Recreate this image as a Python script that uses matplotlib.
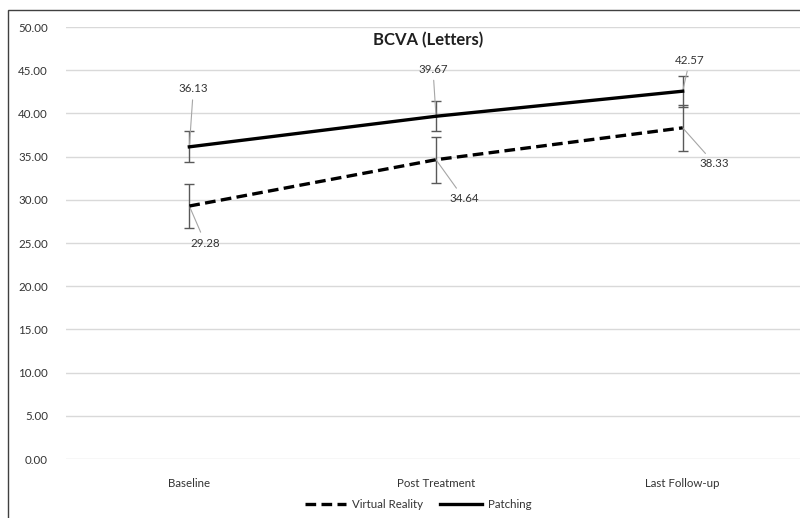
import matplotlib.pyplot as plt
from matplotlib.patches import Rectangle
from matplotlib.lines import Line2D

# data
categories = ['Baseline', 'Post Treatment', 'Last Follow-up']
vr_values = [29.28, 34.64, 38.33]
vr_err = [2.6, 2.65, 2.65]
patch_values = [36.13, 39.67, 42.57]
patch_err = [1.8, 1.75, 1.8]
yticks = [0, 5, 10, 15, 20, 25, 30, 35, 40, 45, 50]

# label offsets in pixels (from the data point)
vr_label_off = [(16, -37), (28, -39), (32, -36)]
patch_label_off = [(4, 58), (-3, 47), (7, 31)]

plt.rcParams['font.family'] = ['Lato', 'DejaVu Sans']
txt_color = '#333333'
fs = 8.3

fig = plt.figure(figsize=(8, 5.18), dpi=100)
fig.patches.append(Rectangle((8 / 800, -0.1), 1.0, (518 - 10) / 518 + 0.1,
                             transform=fig.transFigure, fill=False,
                             edgecolor='#404040', linewidth=1))

ax = fig.add_axes([66 / 800, 59 / 518, 740 / 800, 432 / 518])
x = list(range(len(categories)))

dash = (0, (3.2, 1.6))
ax.errorbar(x, vr_values, yerr=vr_err, color='black', linestyle=dash,
            linewidth=2.4, ecolor='#595959', elinewidth=1, capsize=3.5,
            capthick=1, zorder=3)
ax.errorbar(x, patch_values, yerr=patch_err, color='black', linestyle='-',
            linewidth=2.4, ecolor='#595959', elinewidth=1, capsize=3.5,
            capthick=1, zorder=3)

for xi, v, off in zip(x, vr_values, vr_label_off):
    ax.annotate(f'{v:.2f}', (xi, v), xytext=off, textcoords='offset pixels',
                ha='center', va='center', fontsize=fs, color=txt_color,
                arrowprops=dict(arrowstyle='-', color='#a6a6a6', lw=0.8,
                                shrinkA=2, shrinkB=0))
for xi, v, off in zip(x, patch_values, patch_label_off):
    ax.annotate(f'{v:.2f}', (xi, v), xytext=off, textcoords='offset pixels',
                ha='center', va='center', fontsize=fs, color=txt_color,
                arrowprops=dict(arrowstyle='-', color='#a6a6a6', lw=0.8,
                                shrinkA=2, shrinkB=0))

ax.set_xlim(-0.5, 2.5)
ax.set_ylim(0, 50)
ax.set_yticks(yticks)
ax.set_yticklabels([f'{t:.2f}' for t in yticks])
ax.set_xticks(x)
ax.set_xticklabels(categories)
ax.tick_params(axis='both', length=0, labelsize=fs, colors=txt_color)
ax.tick_params(axis='y', pad=13)
ax.tick_params(axis='x', pad=14)
ax.grid(axis='y', color='#d9d9d9', linewidth=1)
ax.set_axisbelow(True)
for s in ax.spines.values():
    s.set_visible(False)

ax.set_title('BCVA (Letters)', fontsize=12, fontweight='bold', color='#202020',
             x=(428 - 66) / 740, y=1.0, pad=-13)

handles = [Line2D([], [], color='black', linestyle=dash, linewidth=2.4),
           Line2D([], [], color='black', linestyle='-', linewidth=2.4)]
leg = fig.legend(handles, ['Virtual Reality', 'Patching'], loc='lower center',
                 bbox_to_anchor=(418 / 800, -0.005), ncol=2, frameon=False,
                 fontsize=fs, handlelength=3.6, columnspacing=1.5,
                 handletextpad=0.5)
for t in leg.get_texts():
    t.set_color(txt_color)

fig.savefig('out.png')
